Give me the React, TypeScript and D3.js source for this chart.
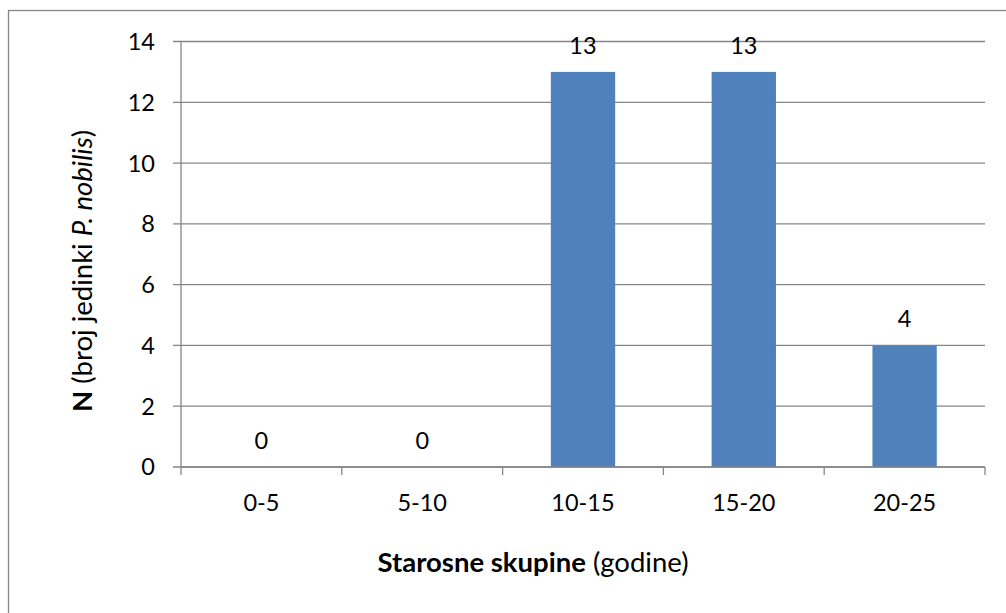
import React from 'react'
import * as d3 from 'd3'

const categories = ['0-5', '5-10', '10-15', '15-20', '20-25']
const counts = [0, 0, 13, 13, 4]
const yTicks = [0, 2, 4, 6, 8, 10, 12, 14]

const width = 1006
const height = 613
const margin = { top: 41.5, right: 21, bottom: 146, left: 181 }
const font = 'Lato, "Open Sans", sans-serif'
const grey = '#868686'
const tickSize = 23.5
const titleSize = 27.5

const App = () => {
  const x = d3
    .scaleBand()
    .domain(categories)
    .range([margin.left, width - margin.right])
    .paddingInner(0.6)
    .paddingOuter(0.3)

  const y = d3
    .scaleLinear()
    .domain([0, 14])
    .range([height - margin.bottom, margin.top])

  const step = x.step()
  const x0 = margin.left
  const x1 = width - margin.right
  const y0 = y(0)
  const boundaries = d3.range(categories.length + 1).map((i) => x0 + i * step)

  return (
    <svg
      width={width}
      height={height}
      style={{ position: 'absolute', left: 0, top: 0, background: '#fff' }}
      fontFamily={font}
    >
      {/* chart frame, cropped at right and bottom */}
      <rect x={8.5} y={10.5} width={width} height={height} fill="#fff" stroke={grey} strokeWidth={1.3} />

      {/* gridlines + y ticks */}
      {yTicks.map((t) => (
        <g key={t}>
          <line x1={x0 - 8} x2={x1} y1={y(t)} y2={y(t)} stroke={grey} strokeWidth={1.3} />
          <text x={155} y={y(t)} dy="0.36em" textAnchor="end" fontSize={tickSize} fill="#000">
            {t}
          </text>
        </g>
      ))}

      {/* bars */}
      {categories.map((c, i) => (
        <rect
          key={c}
          x={x(c)}
          y={y(counts[i])}
          width={x.bandwidth()}
          height={y0 - y(counts[i])}
          fill="#4f81bd"
        />
      ))}

      {/* axes */}
      <line x1={x0} x2={x0} y1={y(14)} y2={y0} stroke={grey} strokeWidth={1.3} />
      <line x1={x0} x2={x1} y1={y0} y2={y0} stroke={grey} strokeWidth={1.3} />
      {boundaries.map((b, i) => (
        <line key={i} x1={b} x2={b} y1={y0} y2={y0 + 8} stroke={grey} strokeWidth={1.3} />
      ))}

      {/* value labels */}
      {categories.map((c, i) => (
        <text
          key={c}
          x={x(c) + x.bandwidth() / 2}
          y={y(counts[i]) - 18}
          textAnchor="middle"
          fontSize={tickSize}
          fill="#000"
        >
          {counts[i]}
        </text>
      ))}

      {/* x tick labels */}
      {categories.map((c) => (
        <text key={c} x={x(c) + x.bandwidth() / 2} y={511} textAnchor="middle" fontSize={tickSize} fill="#000">
          {c}
        </text>
      ))}

      {/* axis titles */}
      <text x={533} y={572} textAnchor="middle" fontSize={titleSize} fill="#000">
        <tspan fontWeight="bold">Starosne skupine</tspan> (godine)
      </text>
      <text
        transform={`translate(92, ${271}) rotate(-90)`}
        textAnchor="middle"
        fontSize={titleSize}
        fill="#000"
      >
        <tspan fontWeight="bold">N</tspan> (broj jedinki <tspan fontStyle="italic">P. nobilis</tspan>)
      </text>
    </svg>
  )
}

export default App
